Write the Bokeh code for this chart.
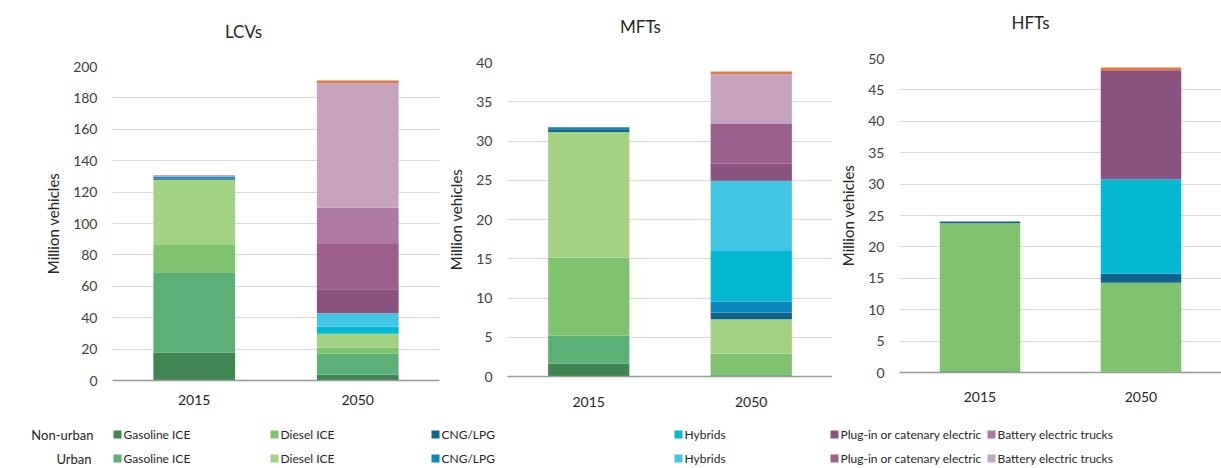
from bokeh.plotting import figure
from bokeh.models import ColumnDataSource, FactorRange, Range1d, FixedTicker
from bokeh.layouts import row, column
from bokeh.core.properties import value
from bokeh.embed import file_html
from bokeh.resources import INLINE

FONT = "Lato"

years = ["2015", "2050"]

series = [
    "Non-urban Gasoline ICE", "Urban Gasoline ICE",
    "Non-urban Diesel ICE", "Urban Diesel ICE",
    "Non-urban CNG/LPG", "Urban CNG/LPG",
    "Non-urban Hybrids", "Urban Hybrids",
    "Non-urban Plug-in or catenary electric", "Urban Plug-in or catenary electric",
    "Non-urban Battery electric trucks", "Urban Battery electric trucks",
    "Other",
]
colors = [
    "#3e8553", "#5daf78",
    "#7fc36f", "#a3d283",
    "#10648c", "#0a87bc",
    "#05b8d2", "#43c5e4",
    "#8a527e", "#9c5f8c",
    "#ae7aa1", "#c6a4bf",
    "#e07a3f",
]

# values in million vehicles, same order as `series`
lcv_2015 = [17.6, 51.4, 17.8, 41.0, 0.8, 1.4, 0, 0, 0, 0, 0, 0.9, 0]
lcv_2050 = [3.8, 13.4, 3.6, 8.9, 0, 0, 4.7, 8.5, 15.3, 28.8, 23.0, 79.4, 1.7]
mft_2015 = [1.66, 3.52, 9.98, 16.0, 0.35, 0.25, 0, 0, 0, 0, 0, 0, 0]
mft_2050 = [0.15, 0, 2.78, 4.37, 0.85, 1.4, 6.45, 8.93, 2.2, 5.1, 0, 6.27, 0.35]
hft_2015 = [0.2, 0, 23.55, 0, 0.3, 0, 0, 0, 0, 0, 0, 0, 0]
hft_2050 = [0, 0, 14.3, 0, 1.43, 0, 15.04, 0, 17.37, 0, 0, 0, 0.43]

lcv_ticks = [0, 20, 40, 60, 80, 100, 120, 140, 160, 180, 200]
mft_ticks = [0, 5, 10, 15, 20, 25, 30, 35, 40]
hft_ticks = [0, 5, 10, 15, 20, 25, 30, 35, 40, 45, 50]

titles = ["LCVs", "MFTs", "HFTs"]
y_label = "Million vehicles"

legend_groups = ["Gasoline ICE", "Diesel ICE", "CNG/LPG", "Hybrids",
                 "Plug-in or catenary electric", "Battery electric trucks"]
legend_rows = ["Non-urban", "Urban"]

TOP_H = 45
PANEL_BOTTOM = 414
PANEL_H = PANEL_BOTTOM - TOP_H


def strip(y0, y1):
    f = figure(width=1221, height=y1 - y0, x_range=Range1d(0, 1221), y_range=Range1d(y1, y0),
               output_backend="svg", toolbar_location=None, min_border=0,
               x_axis_location=None, y_axis_location=None)
    f.grid.visible = False
    f.outline_line_color = None
    return f


def make_panel(v15, v50, ticks, width, b_left, b_right, frame_top, frame_bottom, x_standoff):
    data = {"year": years}
    for i, name in enumerate(series):
        data[name] = [v15[i], v50[i]]
    src = ColumnDataSource(data)
    p = figure(width=width, height=PANEL_H, x_range=FactorRange(*years),
               y_range=Range1d(0, ticks[-1]), output_backend="svg",
               toolbar_location=None, min_border_left=b_left, min_border_right=b_right,
               min_border_top=frame_top - TOP_H, min_border_bottom=PANEL_BOTTOM - frame_bottom)
    p.vbar_stack(series, x="year", width=0.5, fill_color=colors, line_color=None, source=src)

    p.outline_line_color = None
    p.xgrid.grid_line_color = None
    p.ygrid.grid_line_color = "#d9d9d9"
    p.ygrid.grid_line_width = 1

    p.yaxis.ticker = FixedTicker(ticks=ticks)
    p.yaxis.axis_line_color = None
    p.yaxis.major_tick_line_color = None
    p.yaxis.minor_tick_line_color = None
    p.yaxis.major_tick_out = 0
    p.yaxis.major_tick_in = 0
    p.yaxis.major_label_standoff = 15
    p.yaxis.major_label_text_font = FONT
    p.yaxis.major_label_text_font_size = "14px"
    p.yaxis.major_label_text_color = "#404040"
    p.yaxis.axis_label = y_label
    p.yaxis.axis_label_standoff = 8
    p.yaxis.axis_label_text_font = FONT
    p.yaxis.axis_label_text_font_size = "15px"
    p.yaxis.axis_label_text_font_style = "normal"
    p.yaxis.axis_label_text_color = "#262626"

    p.xaxis.axis_line_color = "#9a9a9a"
    p.xaxis.axis_line_width = 1.5
    p.xaxis.major_tick_line_color = None
    p.xaxis.major_tick_out = 0
    p.xaxis.major_tick_in = 0
    p.xaxis.major_label_standoff = x_standoff
    p.xaxis.major_label_text_font = FONT
    p.xaxis.major_label_text_font_size = "14px"
    p.xaxis.major_label_text_color = "#262626"
    return p


p1 = make_panel(lcv_2015, lcv_2050, lcv_ticks, 440, 112, 1, 66, 380, 14)
p2 = make_panel(mft_2015, mft_2050, mft_ticks, 392, 67, 0, 62, 376, 20)
p3 = make_panel(hft_2015, hft_2050, hft_ticks, 389, 67, 0, 58, 372, 19)

# title strip (coordinates = page pixels)
top = strip(0, TOP_H)
title_x = [243, 640, 1030]
title_y = [31, 26, 22]
top.text(x=title_x, y=title_y, text=titles, text_font=value(FONT), text_font_size="17px",
         text_baseline="middle", text_align="center", text_color="#262626")

# legend strip (coordinates = page pixels)
leg = strip(PANEL_BOTTOM, 468)
leg_col_x = [113, 270, 431, 674, 830, 987]
leg_row_y = [434, 458]

sq_x, sq_y, sq_c, tx_x, tx_y, tx_t = [], [], [], [], [], []
for r, yy in enumerate(leg_row_y):
    for g, xx in enumerate(leg_col_x):
        sq_x.append(xx + 4)
        sq_y.append(yy)
        sq_c.append(colors[2 * g + r])
        tx_x.append(xx + 10)
        tx_y.append(yy)
        tx_t.append(legend_groups[g])

leg.rect(x=sq_x, y=sq_y, width=8, height=8, fill_color=sq_c, line_color=None)
leg.text(x=tx_x, y=tx_y, text=tx_t, text_font=value(FONT), text_font_size="12px",
         text_baseline="middle", text_align="left", text_color="#262626")
leg.text(x=[93, 91], y=leg_row_y, text=legend_rows, text_font=value(FONT),
         text_font_size="13px", text_baseline="middle", text_align="right",
         text_color="#262626")

layout = column(top, row(column(p1), column(p2), column(p3)), leg)
open("out.html", "w").write(file_html(layout, INLINE))
